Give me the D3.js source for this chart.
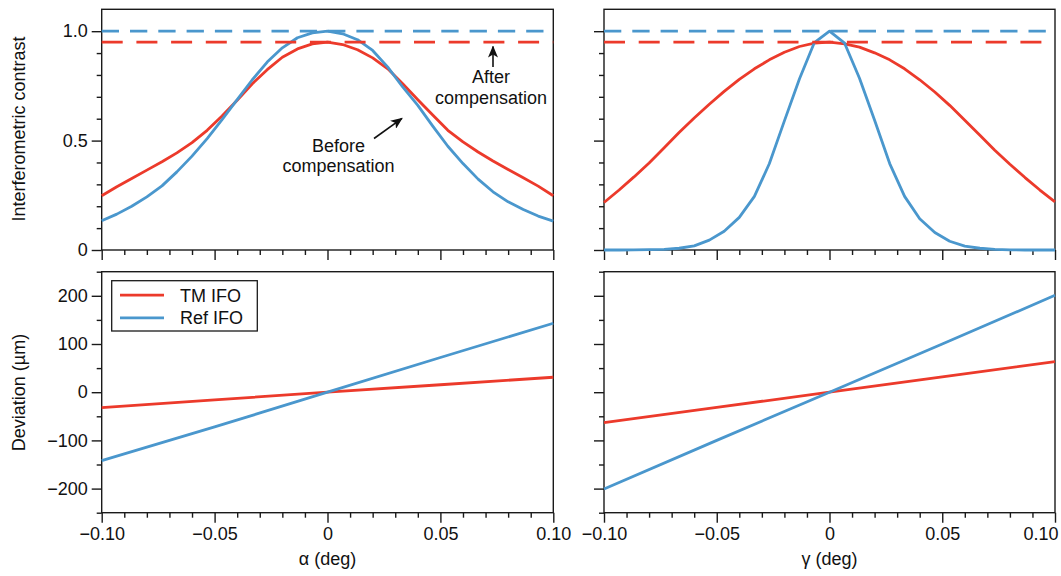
<!DOCTYPE html>
<html>
<head>
<meta charset="utf-8">
<script src="https://cdn.jsdelivr.net/npm/d3@7"></script>
<style>
  body { margin: 0; background: #fff; }
  svg { font-family: "Liberation Sans", Arial, Helvetica, sans-serif; }
  .axis path, .axis line { stroke: #1a1a1a; stroke-width: 1.4; }
  .axis text { font-size: 18px; fill: #111; }
</style>
</head>
<body>
<svg id="chart" width="1061" height="576"></svg>
<script>
// Angle samples (deg) for the contrast curves.
const angles = [-0.1, -0.0933, -0.0867, -0.08, -0.0733, -0.0667, -0.06, -0.0533, -0.0467, -0.04,
  -0.0333, -0.0267, -0.02, -0.0133, -0.0067, 0, 0.0067, 0.0133, 0.02, 0.0267, 0.0333, 0.04,
  0.0467, 0.0533, 0.06, 0.0667, 0.0733, 0.08, 0.0867, 0.0933, 0.1];

// Interferometric contrast vs alpha (before compensation).
const alphaTM = [0.248, 0.289, 0.327, 0.365, 0.403, 0.444, 0.491, 0.547, 0.612, 0.684, 0.760,
  0.824, 0.881, 0.919, 0.942, 0.950, 0.939, 0.915, 0.878, 0.828, 0.760, 0.687, 0.616, 0.547,
  0.494, 0.448, 0.407, 0.368, 0.330, 0.292, 0.248];
const alphaRef = [0.134, 0.164, 0.200, 0.243, 0.293, 0.357, 0.429, 0.509, 0.596, 0.687, 0.778,
  0.859, 0.924, 0.970, 0.992, 1.000, 0.988, 0.961, 0.912, 0.836, 0.745, 0.661, 0.565, 0.474,
  0.395, 0.324, 0.266, 0.220, 0.185, 0.155, 0.132];

// Interferometric contrast vs gamma.
const gammaTM = [0.217, 0.274, 0.334, 0.398, 0.467, 0.537, 0.603, 0.666, 0.725, 0.780, 0.828,
  0.869, 0.904, 0.930, 0.945, 0.950, 0.942, 0.927, 0.901, 0.869, 0.828, 0.778, 0.722, 0.661,
  0.593, 0.524, 0.456, 0.392, 0.331, 0.274, 0.220];
const gammaRef = [0.000, 0.000, 0.001, 0.002, 0.003, 0.008, 0.019, 0.045, 0.086, 0.149, 0.245,
  0.394, 0.590, 0.783, 0.948, 1.000, 0.945, 0.785, 0.593, 0.395, 0.245, 0.143, 0.080, 0.040,
  0.018, 0.008, 0.003, 0.001, 0.000, 0.000, 0.000];

// Contrast after compensation (constant).
const afterTM = 0.95;
const afterRef = 1.0;

// Deviation (um) vs angle.
const devAngles = [-0.1, -0.05, 0, 0.05, 0.1];
const alphaTMDev = [-32, -16, 0, 15.5, 31];
const alphaRefDev = [-142, -72, 0, 72, 143];
const gammaTMDev = [-63, -31.5, 0, 32, 63.5];
const gammaRefDev = [-201, -100, 0, 100, 201];

// Ticks.
const xMajor = [-0.1, -0.05, 0, 0.05, 0.1];
const xMinor = [-0.09, -0.08, -0.07, -0.06, -0.04, -0.03, -0.02, -0.01,
  0.01, 0.02, 0.03, 0.04, 0.06, 0.07, 0.08, 0.09];
const cMajor = [0, 0.5, 1.0];
const cMinor = [0.1, 0.2, 0.3, 0.4, 0.6, 0.7, 0.8, 0.9];
const dMajor = [-200, -100, 0, 100, 200];
const dMinor = [-250, -150, -50, 50, 150, 250];

const seriesNames = ["TM IFO", "Ref IFO"];
const red = "#ec3a2b";
const blue = "#4a97cd";

const svg = d3.select("#chart");

// Panel geometry.
const colX = [[101.7, 553.3], [604, 1055]];
const topY = [250, 9.3];
const botY = [512.7, 271.7];

const yTop = d3.scaleLinear().domain([0, 1.1]).range(topY);
const yBot = d3.scaleLinear().domain([-250, 250]).range(botY);

function fmtX(d) {
  return d === 0 ? "0" : d3.format(".2f")(d);
}

function drawPanel(col, row, labels) {
  let x = d3.scaleLinear().domain([-0.1, 0.1]).range(colX[col]);
  let y = row === 0 ? yTop : yBot;
  let g = svg.append("g");

  // frame
  g.append("rect")
    .attr("x", x.range()[0]).attr("y", y.range()[1])
    .attr("width", x.range()[1] - x.range()[0])
    .attr("height", y.range()[0] - y.range()[1])
    .attr("fill", "none").attr("stroke", "#1a1a1a").attr("stroke-width", 1.4);

  let yMaj = row === 0 ? cMajor : dMajor;
  let yMin = row === 0 ? cMinor : dMinor;
  let yFmt = row === 0 ? (d => d === 0 ? "0" : d.toFixed(1)) : (d => d3.format("d")(d));

  g.append("g").attr("class", "axis")
    .attr("transform", "translate(" + x.range()[0] + ",0)")
    .call(d3.axisLeft(y).tickValues(yMaj).tickSize(10).tickSizeOuter(0).tickPadding(4)
      .tickFormat(labels ? yFmt : ""));
  g.append("g").attr("class", "axis")
    .attr("transform", "translate(" + x.range()[0] + ",0)")
    .call(d3.axisLeft(y).tickValues(yMin).tickSize(5).tickSizeOuter(0).tickFormat(""));

  let xAx = g.append("g").attr("class", "axis")
    .attr("transform", "translate(0," + y.range()[0] + ")")
    .call(d3.axisBottom(x).tickValues(xMajor).tickSize(10).tickSizeOuter(0).tickPadding(4.5)
      .tickFormat(row === 1 ? fmtX : ""));
  g.append("g").attr("class", "axis")
    .attr("transform", "translate(0," + y.range()[0] + ")")
    .call(d3.axisBottom(x).tickValues(xMinor).tickSize(5).tickSizeOuter(0).tickFormat(""));

  // Keep the last label of the right column inside the page.
  if (row === 1 && col === 1) {
    xAx.selectAll(".tick text")
      .filter(d => d === 0.1)
      .attr("text-anchor", "end")
      .attr("dx", 3);
  }

  g.selectAll(".axis .domain").remove();
  return { g: g, x: x, y: y };
}

function drawCurve(p, xs, ys, color) {
  let line = d3.line().x((d, i) => p.x(xs[i])).y(d => p.y(d));
  p.g.append("path")
    .datum(ys)
    .attr("d", line)
    .attr("fill", "none")
    .attr("stroke", color)
    .attr("stroke-width", 2.8)
    .attr("stroke-linejoin", "round");
}

function drawLevel(p, v, color, dash) {
  p.g.append("line")
    .attr("x1", p.x(-0.1)).attr("x2", p.x(0.1))
    .attr("y1", p.y(v)).attr("y2", p.y(v))
    .attr("stroke", color)
    .attr("stroke-width", 2.8)
    .attr("stroke-dasharray", dash);
}

// Top row: contrast.
const pA = drawPanel(0, 0, true);
const pG = drawPanel(1, 0, false);
drawCurve(pA, angles, alphaTM, red);
drawCurve(pA, angles, alphaRef, blue);
drawCurve(pG, angles, gammaTM, red);
drawCurve(pG, angles, gammaRef, blue);
[pA, pG].forEach(p => {
  drawLevel(p, afterRef, blue, "17.3,11");
  drawLevel(p, afterTM, red, "21,13.7");
});

// Bottom row: deviation.
const dA = drawPanel(0, 1, true);
const dG = drawPanel(1, 1, false);
drawCurve(dA, devAngles, alphaTMDev, red);
drawCurve(dA, devAngles, alphaRefDev, blue);
drawCurve(dG, devAngles, gammaTMDev, red);
drawCurve(dG, devAngles, gammaRefDev, blue);

// Axis titles.
svg.append("text")
  .attr("transform", "translate(25,129) rotate(-90)")
  .attr("text-anchor", "middle").attr("font-size", 18).attr("fill", "#111")
  .text("Interferometric contrast");
svg.append("text")
  .attr("transform", "translate(25,392.5) rotate(-90)")
  .attr("text-anchor", "middle").attr("font-size", 18).attr("fill", "#111")
  .text("Deviation (µm)");
svg.append("text")
  .attr("x", 327.5).attr("y", 565)
  .attr("text-anchor", "middle").attr("font-size", 18).attr("fill", "#111")
  .text("α (deg)");
svg.append("text")
  .attr("x", 829.5).attr("y", 565)
  .attr("text-anchor", "middle").attr("font-size", 18).attr("fill", "#111")
  .text("γ (deg)");

// Legend.
const legend = svg.append("g").attr("transform", "translate(111.7,280.7)");
legend.append("rect")
  .attr("width", 145.6).attr("height", 50.3)
  .attr("fill", "#fff").attr("stroke", "#1a1a1a").attr("stroke-width", 1.3);
legend.selectAll("g.item")
  .data(seriesNames)
  .enter().append("g")
  .attr("class", "item")
  .each(function(d, i) {
    let row = d3.select(this).attr("transform", "translate(0," + (14.5 + i * 22.6) + ")");
    row.append("line")
      .attr("x1", 8.3).attr("x2", 52.3)
      .attr("stroke", i === 0 ? red : blue).attr("stroke-width", 2.8);
    row.append("text")
      .attr("x", 68.3).attr("dy", "0.35em")
      .attr("font-size", 18).attr("fill", "#111")
      .text(d);
  });

// Annotations.
const defs = svg.append("defs");
defs.append("marker")
  .attr("id", "arrow")
  .attr("viewBox", "0 -5 12 10")
  .attr("refX", 11).attr("refY", 0)
  .attr("markerWidth", 12).attr("markerHeight", 10)
  .attr("markerUnits", "userSpaceOnUse")
  .attr("orient", "auto")
  .append("path")
  .attr("d", "M0,-5 L12,0 L0,5 L3,0 Z")
  .attr("fill", "#111");

function annotate(lines, cx, y0, from, to) {
  let t = svg.append("text")
    .attr("text-anchor", "middle").attr("font-size", 18).attr("fill", "#111");
  lines.forEach((s, i) => {
    t.append("tspan").attr("x", cx).attr("y", y0 + i * 20.8).text(s);
  });
  svg.append("line")
    .attr("x1", from[0]).attr("y1", from[1])
    .attr("x2", to[0]).attr("y2", to[1])
    .attr("stroke", "#111").attr("stroke-width", 1.6)
    .attr("marker-end", "url(#arrow)");
}

annotate(["After", "compensation"], 491, 83, [493, 67], [493, 46.5]);
annotate(["Before", "compensation"], 338.5, 151.5, [374, 138.5], [402, 118.3]);
</script>
</body>
</html>
